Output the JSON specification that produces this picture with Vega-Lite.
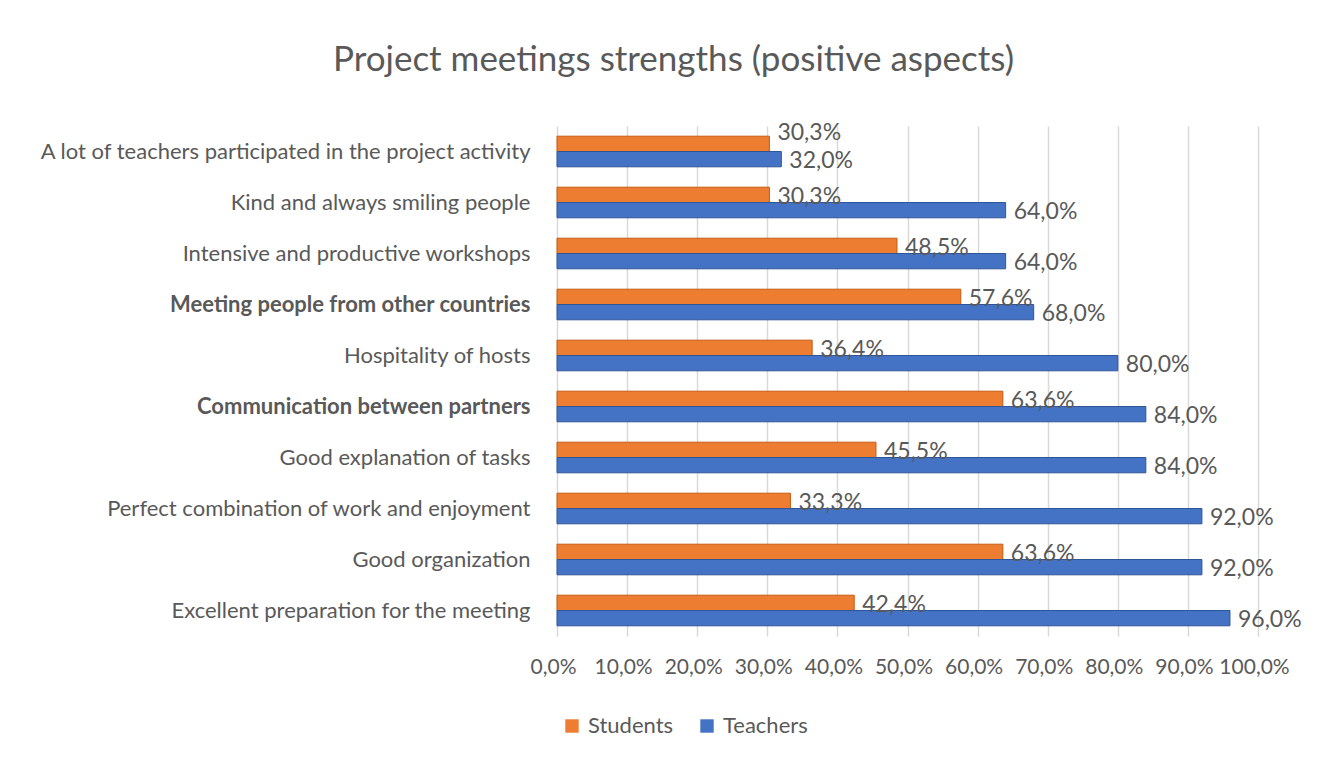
{
  "$schema": "https://vega.github.io/schema/vega-lite/v6.json",
  "width": 701,
  "height": 510,
  "autosize": {"type": "none"},
  "padding": {"left": 557, "top": 126, "right": 74, "bottom": 121},
  "background": "white",
  "title": {
    "text": "Project meetings strengths (positive aspects)",
    "fontSize": 35,
    "font": "Lato",
    "fontWeight": "normal",
    "color": "#595959",
    "anchor": "middle",
    "dx": -234,
    "offset": 44
  },
  "data": {
    "values": [
      {"aspect": "A lot of teachers participated in the project activity", "group": "Students", "value": 0.303},
      {"aspect": "A lot of teachers participated in the project activity", "group": "Teachers", "value": 0.32},
      {"aspect": "Kind and always smiling people", "group": "Students", "value": 0.303},
      {"aspect": "Kind and always smiling people", "group": "Teachers", "value": 0.64},
      {"aspect": "Intensive and productive workshops", "group": "Students", "value": 0.485},
      {"aspect": "Intensive and productive workshops", "group": "Teachers", "value": 0.64},
      {"aspect": "Meeting people from other countries", "group": "Students", "value": 0.576},
      {"aspect": "Meeting people from other countries", "group": "Teachers", "value": 0.68},
      {"aspect": "Hospitality of hosts", "group": "Students", "value": 0.364},
      {"aspect": "Hospitality of hosts", "group": "Teachers", "value": 0.80},
      {"aspect": "Communication between partners", "group": "Students", "value": 0.636},
      {"aspect": "Communication between partners", "group": "Teachers", "value": 0.84},
      {"aspect": "Good explanation of tasks", "group": "Students", "value": 0.455},
      {"aspect": "Good explanation of tasks", "group": "Teachers", "value": 0.84},
      {"aspect": "Perfect combination of work and enjoyment", "group": "Students", "value": 0.333},
      {"aspect": "Perfect combination of work and enjoyment", "group": "Teachers", "value": 0.92},
      {"aspect": "Good organization", "group": "Students", "value": 0.636},
      {"aspect": "Good organization", "group": "Teachers", "value": 0.92},
      {"aspect": "Excellent preparation for the meeting", "group": "Students", "value": 0.424},
      {"aspect": "Excellent preparation for the meeting", "group": "Teachers", "value": 0.96}
    ]
  },
  "encoding": {
    "y": {
      "field": "aspect",
      "type": "nominal",
      "sort": null,
      "scale": {"paddingInner": 0.4, "paddingOuter": 0.2},
      "axis": {
        "title": null,
        "domain": false,
        "ticks": false,
        "labelPadding": 27,
        "labelLimit": 0,
        "labelFontSize": 22,
        "labelColor": "#595959",
        "labelFont": "Lato",
        "labelFontWeight": {
          "condition": {"test": "datum.value === 'Meeting people from other countries' || datum.value === 'Communication between partners'", "value": "bold"},
          "value": "normal"
        }
      }
    },
    "yOffset": {"field": "group", "type": "nominal", "sort": ["Students", "Teachers"]},
    "x": {
      "field": "value",
      "type": "quantitative",
      "scale": {"domain": [0, 1], "nice": false},
      "axis": {
        "title": null,
        "values": [0, 0.1, 0.2, 0.3, 0.4, 0.5, 0.6, 0.7, 0.8, 0.9, 1],
        "format": ".1%",
        "labelOverlap": false,
        "labelFlush": false,
        "labelOffset": -4,
        "domain": false,
        "ticks": false,
        "grid": true,
        "gridColor": "#D9D9D9",
        "gridWidth": 1.5,
        "labelPadding": 20,
        "labelFontSize": 21,
        "labelColor": "#595959",
        "labelFont": "Lato",
        "labelBound": false
      }
    }
  },
  "layer": [
    {
      "mark": {"type": "bar", "strokeWidth": 1},
      "encoding": {
        "color": {
          "field": "group",
          "type": "nominal",
          "scale": {"domain": ["Students", "Teachers"], "range": ["#ED7D31", "#4472C4"]},
          "legend": {
            "title": null,
            "orient": "none",
            "direction": "horizontal",
            "legendX": 4,
            "legendY": 589,
            "symbolType": "square",
            "symbolSize": 180,
            "symbolStrokeWidth": 0,
            "labelFontSize": 22,
            "labelColor": "#595959",
            "labelFont": "Lato",
            "columnPadding": 22,
            "labelOffset": 5
          }
        },
        "stroke": {
          "field": "group",
          "type": "nominal",
          "scale": {"domain": ["Students", "Teachers"], "range": ["#C55A11", "#2F5597"]},
          "legend": null
        }
      }
    },
    {
      "transform": [{"filter": "!(datum.group === 'Students' && datum.aspect === 'A lot of teachers participated in the project activity')"}],
      "mark": {"type": "text", "align": "left", "baseline": "middle", "dx": 8, "dy": 2, "fontSize": 23, "font": "Lato", "color": "#595959"},
      "encoding": {
        "text": {"field": "value", "type": "quantitative", "format": ".1%"}
      }
    },
    {
      "transform": [{"filter": "datum.group === 'Students' && datum.aspect === 'A lot of teachers participated in the project activity'"}],
      "mark": {"type": "text", "align": "left", "baseline": "middle", "dx": 8, "dy": -11, "fontSize": 23, "font": "Lato", "color": "#595959"},
      "encoding": {
        "text": {"field": "value", "type": "quantitative", "format": ".1%"}
      }
    }
  ],
  "config": {
    "locale": {"number": {"decimal": ",", "thousands": ".", "grouping": [3], "currency": ["", " €"]}},
    "view": {"stroke": null}
  }
}
